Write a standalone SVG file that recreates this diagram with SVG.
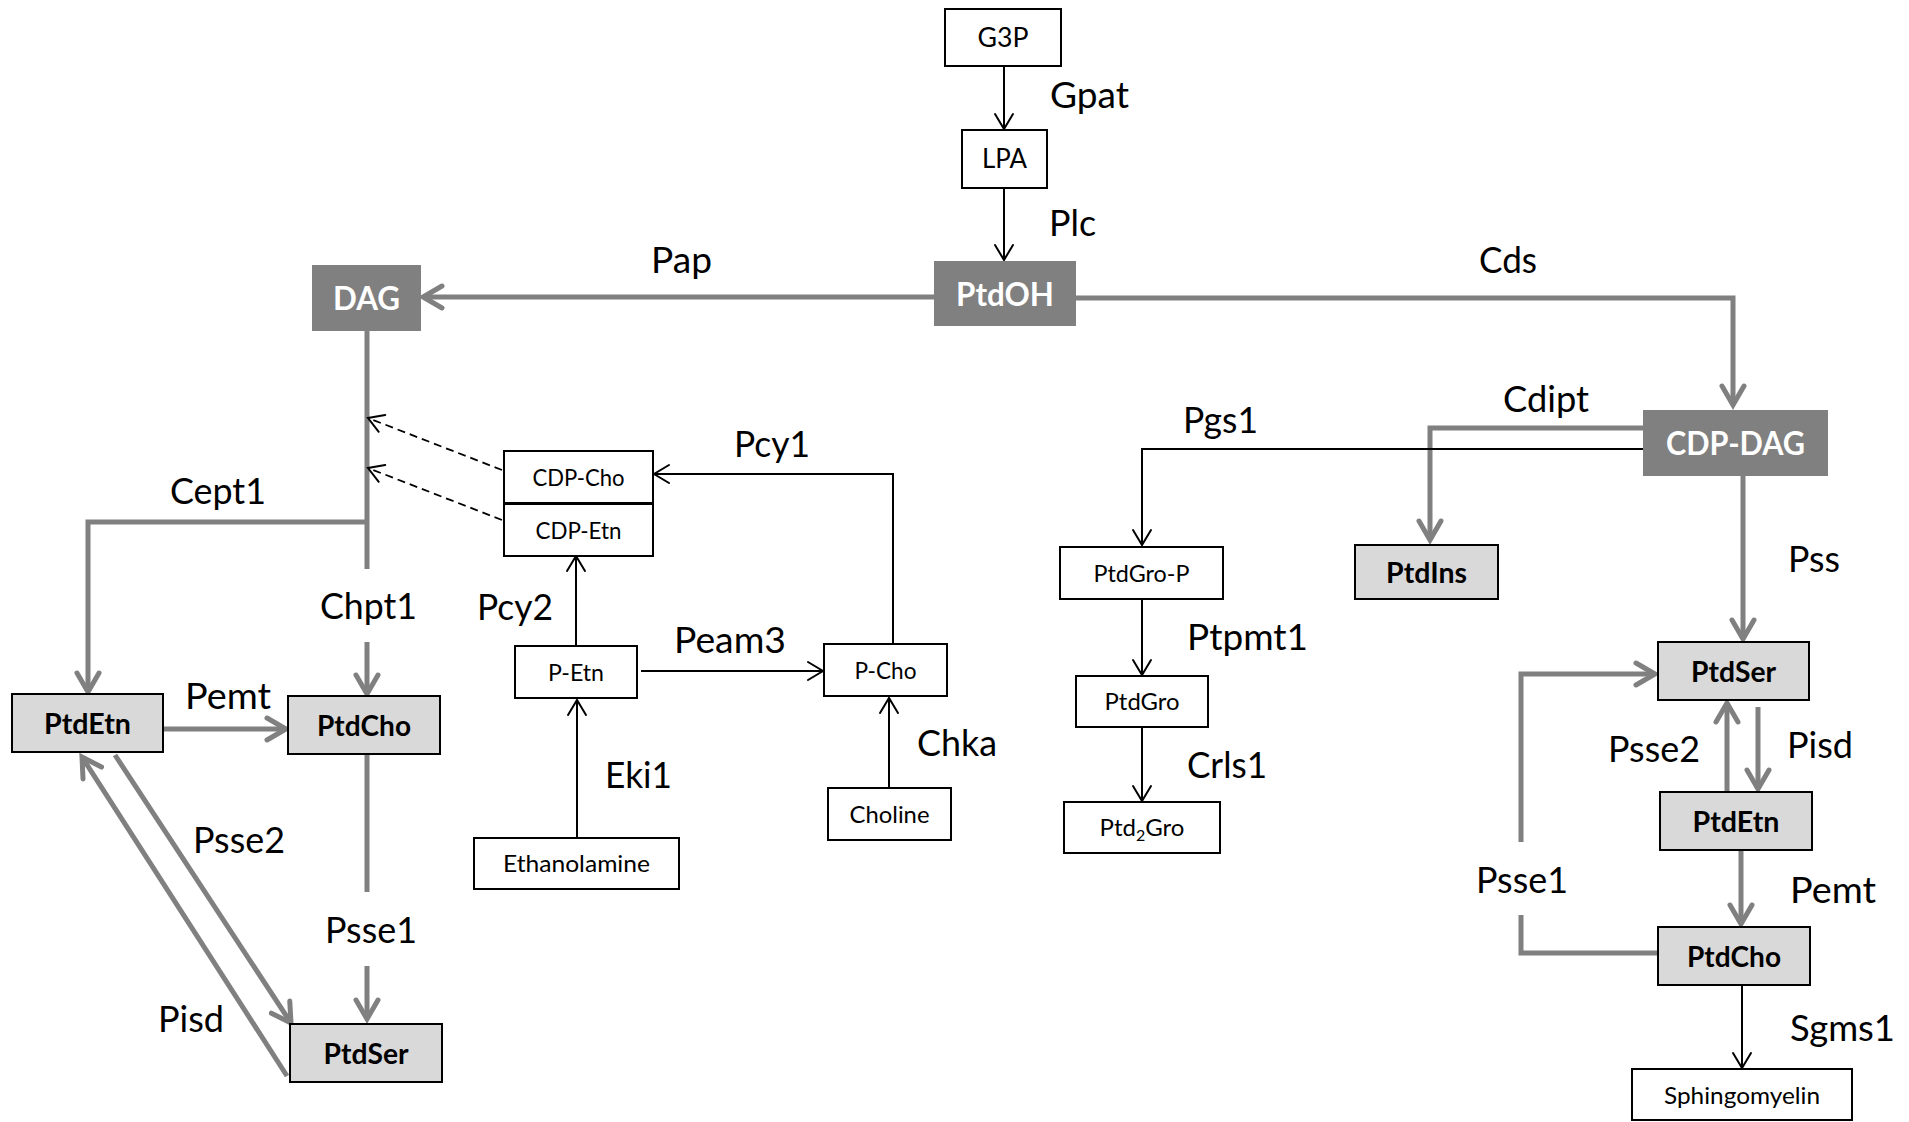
<svg xmlns="http://www.w3.org/2000/svg" width="1909" height="1122" viewBox="0 0 1909 1122">
<style>
.lbl{font-family:Lato,"Open Sans","Liberation Sans",sans-serif;font-size:36px;fill:#000}
.nt{font-family:Lato,"Open Sans","Liberation Sans",sans-serif;font-size:24px;fill:#000;text-anchor:middle}
.nt2{font-family:Lato,"Open Sans","Liberation Sans",sans-serif;font-size:26px;fill:#000;text-anchor:middle}
.bt{font-family:Lato,"Open Sans","Liberation Sans",sans-serif;font-weight:700;font-size:28px;fill:#000;text-anchor:middle}
.wt{font-family:Lato,"Open Sans","Liberation Sans",sans-serif;font-weight:700;font-size:32.5px;fill:#fff;text-anchor:middle}
.bx{fill:#fff;stroke:#000;stroke-width:2}
.lb{fill:#d9d9d9;stroke:#000;stroke-width:2}
.db{fill:#808080}
.thick{fill:none;stroke:#808080;stroke-width:5}
.thin{fill:none;stroke:#000;stroke-width:2}
.dash{fill:none;stroke:#000;stroke-width:1.8;stroke-dasharray:8 5}
</style>
<defs>
<marker id="ag" markerUnits="userSpaceOnUse" markerWidth="50" markerHeight="50" viewBox="-25 -25 50 50" refX="0" refY="0" orient="auto" overflow="visible">
<path d="M-19,-11 L0,0 L-19,11" fill="none" stroke="#808080" stroke-width="5" stroke-linecap="round" stroke-linejoin="miter"/>
</marker>
<marker id="ak" markerUnits="userSpaceOnUse" markerWidth="40" markerHeight="40" viewBox="-20 -20 40 40" refX="0" refY="0" orient="auto" overflow="visible">
<path d="M-15,-9 L0,0 L-15,9" fill="none" stroke="#000" stroke-width="2" stroke-linecap="round"/>
</marker>
</defs>
<rect width="1909" height="1122" fill="#fff"/>

<g id="connectors">
<path class="thin" d="M1004,66 V129" marker-end="url(#ak)"/>
<path class="thin" d="M1004,188 V260" marker-end="url(#ak)"/>
<path class="thick" d="M934,297 H423" marker-end="url(#ag)"/>
<path class="thick" d="M1076,298 H1733 V405" marker-end="url(#ag)"/>
<path class="thick" d="M1643,428 H1430 V540" marker-end="url(#ag)"/>
<path class="thin" d="M1643,449 H1142 V545" marker-end="url(#ak)"/>
<path class="thin" d="M1142,599 V675" marker-end="url(#ak)"/>
<path class="thin" d="M1142,727 V801" marker-end="url(#ak)"/>
<path class="thick" d="M1743,476 V639" marker-end="url(#ag)"/>
<path class="thick" d="M1727,792 V703" marker-end="url(#ag)"/>
<path class="thick" d="M1758,707 V789" marker-end="url(#ag)"/>
<path class="thick" d="M1741,850 V924" marker-end="url(#ag)"/>
<path class="thin" d="M1742,985 V1068" marker-end="url(#ak)"/>
<path class="thick" d="M1658,953 H1521 V915"/>
<path class="thick" d="M1521,842 V674 H1655" marker-end="url(#ag)"/>
<path class="thick" d="M367,331 V569"/>
<path class="thick" d="M367,522 H88 V692" marker-end="url(#ag)"/>
<path class="thick" d="M367,642 V694" marker-end="url(#ag)"/>
<path class="thick" d="M163,729 H286" marker-end="url(#ag)"/>
<path class="thick" d="M367,754 V892"/>
<path class="thick" d="M367,966 V1019" marker-end="url(#ag)"/>
<path class="thick" d="M115,755 L291,1023" marker-end="url(#ag)"/>
<path class="thick" d="M287,1076 L82,757" marker-end="url(#ag)"/>
<path class="dash" d="M502,470 L368,418" marker-end="url(#ak)"/>
<path class="dash" d="M502,520 L368,468" marker-end="url(#ak)"/>
<path class="thin" d="M893,644 V474 H654" marker-end="url(#ak)"/>
<path class="thin" d="M576,646 V556" marker-end="url(#ak)"/>
<path class="thin" d="M641,671 H823" marker-end="url(#ak)"/>
<path class="thin" d="M577,838 V700" marker-end="url(#ak)"/>
<path class="thin" d="M889,788 V698" marker-end="url(#ak)"/>
</g>

<g id="edge-labels">
<text class="lbl" x="1050" y="108" textLength="79" lengthAdjust="spacingAndGlyphs">Gpat</text>
<text class="lbl" x="1049" y="236" textLength="47" lengthAdjust="spacingAndGlyphs">Plc</text>
<text class="lbl" x="651" y="273" textLength="61" lengthAdjust="spacingAndGlyphs">Pap</text>
<text class="lbl" x="1479" y="273" textLength="58" lengthAdjust="spacingAndGlyphs">Cds</text>
<text class="lbl" x="1503" y="412" textLength="86" lengthAdjust="spacingAndGlyphs">Cdipt</text>
<text class="lbl" x="1183" y="433" textLength="75" lengthAdjust="spacingAndGlyphs">Pgs1</text>
<text class="lbl" x="1187" y="650" textLength="121" lengthAdjust="spacingAndGlyphs">Ptpmt1</text>
<text class="lbl" x="1187" y="778" textLength="80" lengthAdjust="spacingAndGlyphs">Crls1</text>
<text class="lbl" x="1788" y="572" textLength="52" lengthAdjust="spacingAndGlyphs">Pss</text>
<text class="lbl" x="1608" y="762" textLength="92" lengthAdjust="spacingAndGlyphs">Psse2</text>
<text class="lbl" x="1787" y="758" textLength="66" lengthAdjust="spacingAndGlyphs">Pisd</text>
<text class="lbl" x="1790" y="903" textLength="86" lengthAdjust="spacingAndGlyphs">Pemt</text>
<text class="lbl" x="1790" y="1041" textLength="105" lengthAdjust="spacingAndGlyphs">Sgms1</text>
<text class="lbl" x="1476" y="893" textLength="92" lengthAdjust="spacingAndGlyphs">Psse1</text>
<text class="lbl" x="170" y="504" textLength="96" lengthAdjust="spacingAndGlyphs">Cept1</text>
<text class="lbl" x="320" y="619" textLength="97" lengthAdjust="spacingAndGlyphs">Chpt1</text>
<text class="lbl" x="185" y="709" textLength="86" lengthAdjust="spacingAndGlyphs">Pemt</text>
<text class="lbl" x="193" y="853" textLength="92" lengthAdjust="spacingAndGlyphs">Psse2</text>
<text class="lbl" x="325" y="943" textLength="92" lengthAdjust="spacingAndGlyphs">Psse1</text>
<text class="lbl" x="158" y="1032" textLength="66" lengthAdjust="spacingAndGlyphs">Pisd</text>
<text class="lbl" x="734" y="457" textLength="76" lengthAdjust="spacingAndGlyphs">Pcy1</text>
<text class="lbl" x="477" y="620" textLength="76" lengthAdjust="spacingAndGlyphs">Pcy2</text>
<text class="lbl" x="674" y="653" textLength="112" lengthAdjust="spacingAndGlyphs">Peam3</text>
<text class="lbl" x="605" y="788" textLength="67" lengthAdjust="spacingAndGlyphs">Eki1</text>
<text class="lbl" x="917" y="756" textLength="80" lengthAdjust="spacingAndGlyphs">Chka</text>
</g>

<g id="node-g3p"><rect class="bx" x="945" y="9" width="116" height="57"/><text class="nt2" x="1003" y="47" textLength="51" lengthAdjust="spacingAndGlyphs">G3P</text></g>
<g id="node-lpa"><rect class="bx" x="962" y="130" width="85" height="58"/><text class="nt2" x="1004.5" y="168" textLength="45" lengthAdjust="spacingAndGlyphs">LPA</text></g>
<g id="node-ptdoh"><rect class="db" x="934" y="261" width="142" height="65"/><text class="wt" x="1005" y="306" textLength="98" lengthAdjust="spacingAndGlyphs">PtdOH</text></g>
<g id="node-dag"><rect class="db" x="312" y="265" width="109" height="66"/><text class="wt" x="366.5" y="310" textLength="67" lengthAdjust="spacingAndGlyphs">DAG</text></g>
<g id="node-cdpdag"><rect class="db" x="1643" y="410" width="185" height="66"/><text class="wt" x="1735.5" y="455" textLength="139" lengthAdjust="spacingAndGlyphs">CDP-DAG</text></g>
<g id="node-ptdins"><rect class="lb" x="1355" y="545" width="143" height="54"/><text class="bt" x="1426.5" y="583" textLength="81" lengthAdjust="spacingAndGlyphs">PtdIns</text></g>
<g id="node-ptdgrop"><rect class="bx" x="1060" y="547" width="163" height="52"/><text class="nt" x="1141.5" y="582" textLength="96" lengthAdjust="spacingAndGlyphs">PtdGro-P</text></g>
<g id="node-ptdgro"><rect class="bx" x="1076" y="676" width="132" height="51"/><text class="nt" x="1142" y="710" textLength="75" lengthAdjust="spacingAndGlyphs">PtdGro</text></g>
<g id="node-ptd2gro"><rect class="bx" x="1064" y="802" width="156" height="51"/><text class="nt" x="1142" y="836">Ptd<tspan font-size="16" dy="5">2</tspan><tspan dy="-5">Gro</tspan></text></g>
<g id="node-ptdser-r"><rect class="lb" x="1658" y="642" width="151" height="58"/><text class="bt" x="1733.5" y="682" textLength="85" lengthAdjust="spacingAndGlyphs">PtdSer</text></g>
<g id="node-ptdetn-r"><rect class="lb" x="1660" y="792" width="152" height="58"/><text class="bt" x="1736" y="832" textLength="87" lengthAdjust="spacingAndGlyphs">PtdEtn</text></g>
<g id="node-ptdcho-r"><rect class="lb" x="1658" y="927" width="152" height="58"/><text class="bt" x="1734" y="967" textLength="94" lengthAdjust="spacingAndGlyphs">PtdCho</text></g>
<g id="node-sphingomyelin"><rect class="bx" x="1632" y="1069" width="220" height="51"/><text class="nt" x="1742" y="1104" textLength="156" lengthAdjust="spacingAndGlyphs">Sphingomyelin</text></g>
<g id="node-ptdetn-l"><rect class="lb" x="12" y="694" width="151" height="58"/><text class="bt" x="87.5" y="734" textLength="87" lengthAdjust="spacingAndGlyphs">PtdEtn</text></g>
<g id="node-ptdcho-l"><rect class="lb" x="288" y="696" width="152" height="58"/><text class="bt" x="364" y="736" textLength="94" lengthAdjust="spacingAndGlyphs">PtdCho</text></g>
<g id="node-ptdser-l"><rect class="lb" x="290" y="1024" width="152" height="58"/><text class="bt" x="366" y="1064" textLength="85" lengthAdjust="spacingAndGlyphs">PtdSer</text></g>
<g id="node-cdpcho"><rect class="bx" x="504" y="451" width="149" height="52"/><text class="nt" x="578.5" y="486" textLength="92" lengthAdjust="spacingAndGlyphs">CDP-Cho</text></g>
<g id="node-cdpetn"><rect class="bx" x="504" y="504" width="149" height="52"/><text class="nt" x="578.5" y="539" textLength="86" lengthAdjust="spacingAndGlyphs">CDP-Etn</text></g>
<g id="node-petn"><rect class="bx" x="515" y="646" width="122" height="52"/><text class="nt" x="576" y="681" textLength="56" lengthAdjust="spacingAndGlyphs">P-Etn</text></g>
<g id="node-pcho"><rect class="bx" x="824" y="644" width="123" height="52"/><text class="nt" x="885.5" y="679" textLength="62" lengthAdjust="spacingAndGlyphs">P-Cho</text></g>
<g id="node-choline"><rect class="bx" x="828" y="788" width="123" height="52"/><text class="nt" x="889.5" y="823" textLength="80" lengthAdjust="spacingAndGlyphs">Choline</text></g>
<g id="node-ethanolamine"><rect class="bx" x="474" y="838" width="205" height="51"/><text class="nt" x="576.5" y="872" textLength="147" lengthAdjust="spacingAndGlyphs">Ethanolamine</text></g>
</svg>
